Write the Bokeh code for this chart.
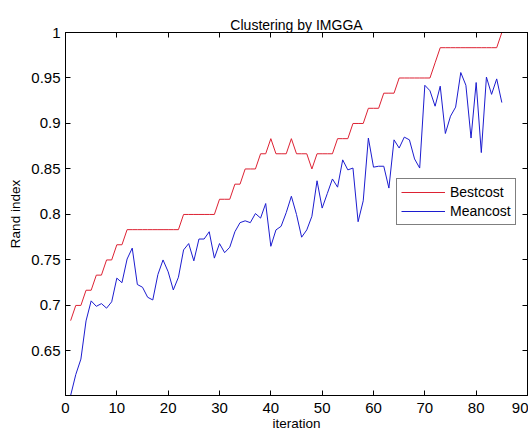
from bokeh.plotting import figure
from bokeh.models import (Range1d, LinearAxis, FixedTicker, CustomJSTickFormatter,
                          Legend, LegendItem)
from bokeh.embed import file_html
from bokeh.resources import INLINE

title_text = "Clustering by IMGGA"
x_label = "iteration"
y_label = "Rand index"
series_names = ["Bestcost", "Meancost"]

iterations = list(range(1, 86))

bestcost = [
    0.6833, 0.7, 0.7, 0.7167, 0.7167, 0.7333, 0.7333, 0.75, 0.75, 0.7667,
    0.7667, 0.7833, 0.7833, 0.7833, 0.7833, 0.7833, 0.7833, 0.7833, 0.7833, 0.7833,
    0.7833, 0.7833, 0.8, 0.8, 0.8, 0.8, 0.8, 0.8, 0.8, 0.8167,
    0.8167, 0.8167, 0.8333, 0.8333, 0.85, 0.85, 0.85, 0.8667, 0.8667, 0.8833,
    0.8667, 0.8667, 0.8667, 0.8833, 0.8667, 0.8667, 0.8667, 0.85, 0.8667, 0.8667,
    0.8667, 0.8667, 0.8833, 0.8833, 0.8833, 0.9, 0.9, 0.9, 0.9167, 0.9167,
    0.9167, 0.9333, 0.9333, 0.9333, 0.95, 0.95, 0.95, 0.95, 0.95, 0.95,
    0.95, 0.9667, 0.9833, 0.9833, 0.9833, 0.9833, 0.9833, 0.9833, 0.9833, 0.9833,
    0.9833, 0.9833, 0.9833, 0.9833, 1.0,
]

meancost = [
    0.601, 0.624, 0.641, 0.683, 0.705, 0.699, 0.702, 0.697, 0.704, 0.730,
    0.725, 0.751, 0.763, 0.723, 0.720, 0.709, 0.706, 0.734, 0.750, 0.737,
    0.717, 0.731, 0.761, 0.768, 0.749, 0.773, 0.773, 0.781, 0.752, 0.768,
    0.758, 0.764, 0.781, 0.791, 0.793, 0.791, 0.801, 0.796, 0.812, 0.765,
    0.783, 0.787, 0.802, 0.820, 0.800, 0.775, 0.783, 0.798, 0.837, 0.807,
    0.823, 0.839, 0.830, 0.860, 0.849, 0.851, 0.792, 0.815, 0.884, 0.852,
    0.853, 0.853, 0.829, 0.882, 0.873, 0.885, 0.882, 0.861, 0.851, 0.942,
    0.936, 0.919, 0.941, 0.889, 0.908, 0.918, 0.956, 0.942, 0.884, 0.945,
    0.868, 0.951, 0.932, 0.949, 0.923,
]

x_ticks = [0, 10, 20, 30, 40, 50, 60, 70, 80, 90]
y_ticks = [0.65, 0.7, 0.75, 0.8, 0.85, 0.9, 0.95, 1.0]

FONT = "Liberation Sans"

p = figure(width=528, height=433, output_backend="svg", toolbar_location=None,
           x_range=Range1d(0, 90), y_range=Range1d(min(meancost), 1.0),
           min_border_left=65, min_border_right=1, min_border_top=32,
           min_border_bottom=36, title=title_text)

p.title.text_font = FONT
p.title.text_font_size = "14px"
p.title.text_font_style = "normal"
p.title.align = "center"
p.title.text_color = "#000000"
p.title.standoff = 0

p.xgrid.visible = False
p.ygrid.visible = False
p.outline_line_color = "#000000"
p.outline_line_width = 1
p.background_fill_color = "white"
p.border_fill_color = "white"

num_fmt = CustomJSTickFormatter(code="return String(Math.round(tick*100)/100);")
blank_fmt = CustomJSTickFormatter(code="return '';")

def style_axis(ax, labels=True):
    ax.major_tick_in = 5
    ax.major_tick_out = 0
    ax.minor_tick_in = 0
    ax.minor_tick_out = 0
    ax.axis_line_color = "#000000"
    ax.major_tick_line_color = "#000000"
    ax.major_label_text_font = FONT
    ax.major_label_text_color = "#000000"
    ax.axis_label_text_font = FONT
    ax.axis_label_text_font_size = "13.5px"
    ax.axis_label_text_font_style = "normal"
    ax.axis_label_text_color = "#000000"
    if labels:
        ax.major_label_standoff = 5
        ax.major_label_text_font_size = "15px"
    else:
        ax.major_label_standoff = 0
        ax.major_label_text_font_size = "0px"

xa = p.xaxis[0]
xa.ticker = FixedTicker(ticks=x_ticks)
xa.formatter = num_fmt
xa.axis_label = x_label
style_axis(xa)
xa.major_label_standoff = 7
xa.axis_label_standoff = 0

ya = p.yaxis[0]
ya.ticker = FixedTicker(ticks=y_ticks)
ya.formatter = num_fmt
ya.axis_label = y_label
style_axis(ya)
ya.axis_label_standoff = 5

top = LinearAxis(ticker=FixedTicker(ticks=x_ticks), formatter=blank_fmt)
style_axis(top, labels=False)
p.add_layout(top, "above")

right = LinearAxis(ticker=FixedTicker(ticks=y_ticks), formatter=blank_fmt)
style_axis(right, labels=False)
p.add_layout(right, "right")

r_best = p.line(iterations, bestcost, line_color="#dd2233", line_width=1)
r_mean = p.line(iterations, meancost, line_color="#1c1ccf", line_width=1)

legend = Legend(items=[LegendItem(label=series_names[0], renderers=[r_best]),
                       LegendItem(label=series_names[1], renderers=[r_mean])],
                location=(331, 170))
legend.label_text_font = FONT
legend.label_text_font_size = "14px"
legend.label_text_color = "#000000"
legend.border_line_color = "#000000"
legend.border_line_width = 1
legend.background_fill_color = "white"
legend.background_fill_alpha = 1
legend.padding = 4
legend.spacing = 1
legend.margin = 0
legend.glyph_width = 44
legend.glyph_height = 18
legend.label_height = 18
legend.label_standoff = 5
p.add_layout(legend, "center")

open("out.html", "w").write(file_html(p, INLINE))
